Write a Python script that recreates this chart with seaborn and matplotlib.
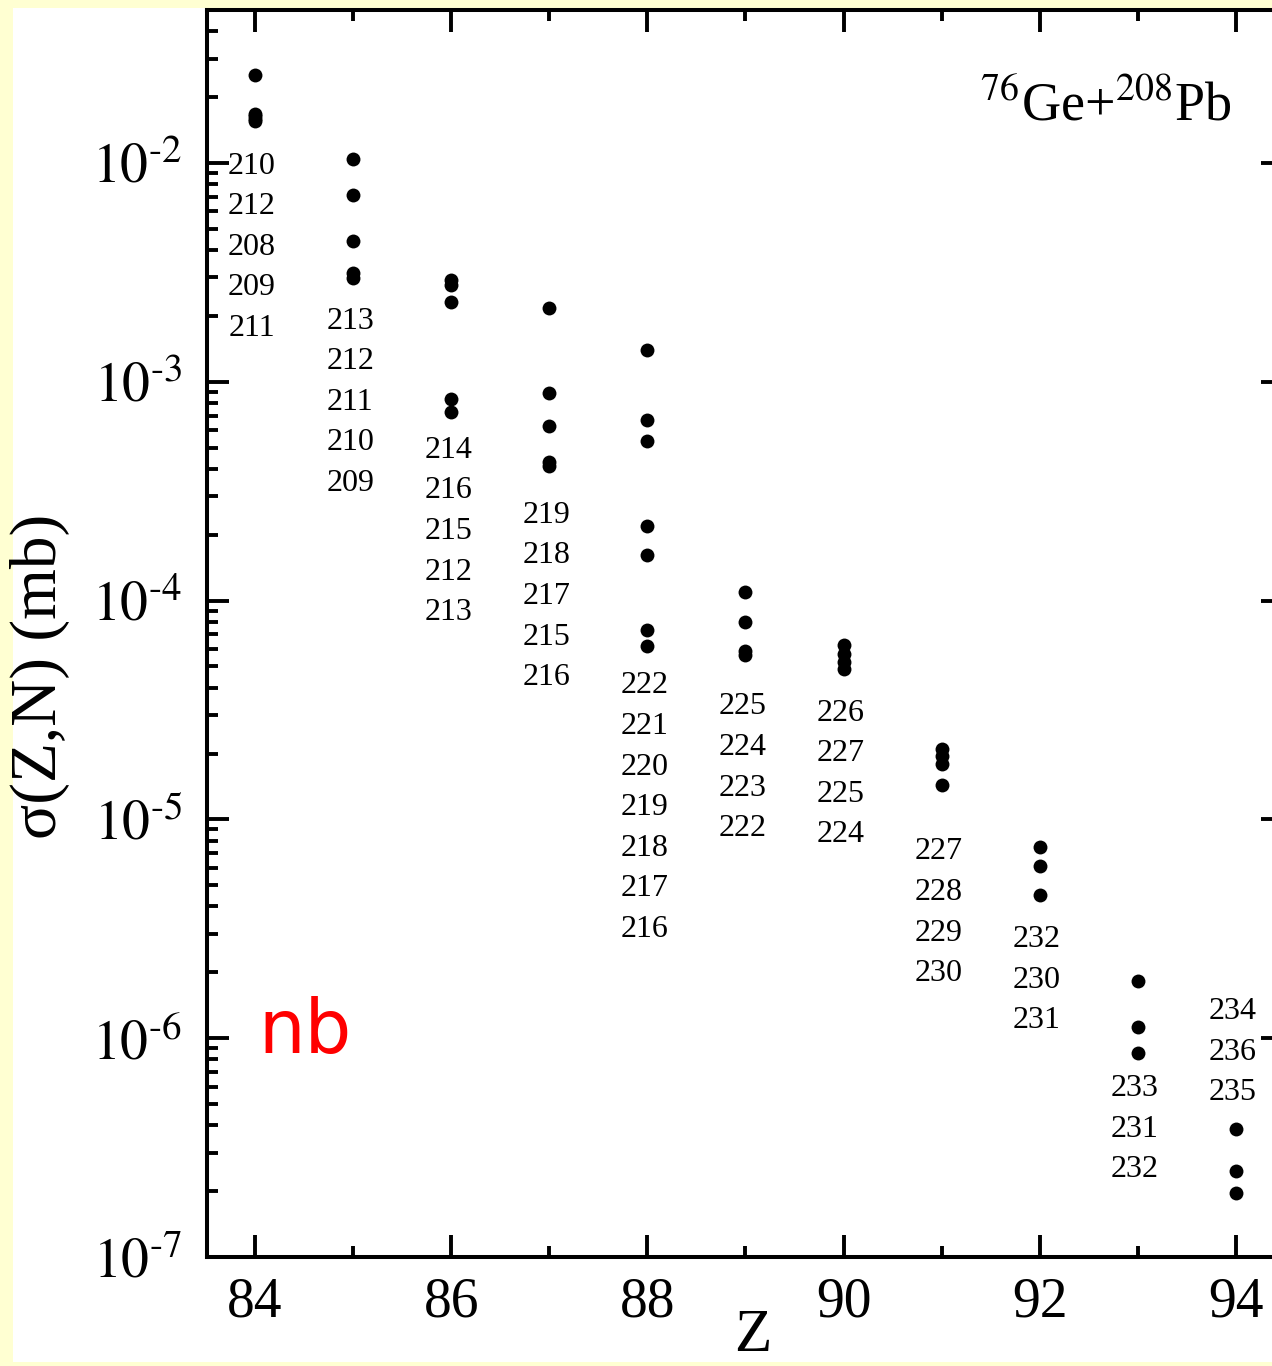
import numpy as np
import pandas as pd
import matplotlib
matplotlib.use("Agg")
import matplotlib.pyplot as plt
import matplotlib.ticker as mticker
from matplotlib.patches import Rectangle
import seaborn as sns

# proton number of each column
columns = [84, 85, 86, 87, 88, 89, 90, 91, 92, 93, 94]

# cross sections (mb), one list per column, top to bottom
sigma_84 = [2.52e-2, 1.67e-2, 1.64e-2, 1.59e-2, 1.56e-2]
sigma_85 = [1.04e-2, 7.14e-3, 4.40e-3, 3.15e-3, 2.99e-3]
sigma_86 = [2.92e-3, 2.77e-3, 2.32e-3, 8.36e-4, 7.29e-4]
sigma_87 = [2.18e-3, 8.91e-4, 6.30e-4, 4.31e-4, 4.13e-4]
sigma_88 = [1.39e-3, 6.70e-4, 5.38e-4, 2.20e-4, 1.62e-4, 7.37e-5, 6.17e-5]
sigma_89 = [1.09e-4, 8.02e-5, 5.91e-5, 5.61e-5]
sigma_90 = [6.24e-5, 5.67e-5, 5.26e-5, 4.89e-5]
sigma_91 = [2.09e-5, 1.94e-5, 1.80e-5, 1.43e-5]
sigma_92 = [7.45e-6, 6.10e-6, 4.50e-6]
sigma_93 = [1.82e-6, 1.12e-6, 8.54e-7]
sigma_94 = [3.84e-7, 2.47e-7, 1.96e-7]

# mass numbers printed next to each column
masses_84 = [210, 212, 208, 209, 211]
masses_85 = [213, 212, 211, 210, 209]
masses_86 = [214, 216, 215, 212, 213]
masses_87 = [219, 218, 217, 215, 216]
masses_88 = [222, 221, 220, 219, 218, 217, 216]
masses_89 = [225, 224, 223, 222]
masses_90 = [226, 227, 225, 224]
masses_91 = [227, 228, 229, 230]
masses_92 = [232, 230, 231]
masses_93 = [233, 231, 232]
masses_94 = [234, 236, 235]

sigmas = [sigma_84, sigma_85, sigma_86, sigma_87, sigma_88, sigma_89,
          sigma_90, sigma_91, sigma_92, sigma_93, sigma_94]
masses = [masses_84, masses_85, masses_86, masses_87, masses_88, masses_89,
          masses_90, masses_91, masses_92, masses_93, masses_94]

# gap (pixels) between the lowest dot and the first label of each column
label_gap = [42, 40, 35, 46, 36, 48, 41, 63, 41, 32, -185]
line_step = 40.6

df = pd.DataFrame({
    "Z": np.repeat(columns, [len(s) for s in sigmas]),
    "sigma": np.concatenate(sigmas),
})

sns.set_style("ticks")
plt.rcParams['font.family'] = ['Liberation Serif', 'DejaVu Serif']
plt.rcParams['mathtext.fontset'] = 'stix'
for key in ['text.color', 'axes.labelcolor', 'xtick.color', 'ytick.color', 'axes.edgecolor']:
    plt.rcParams[key] = 'black'

W, H = 1272, 1366
fig = plt.figure(figsize=(W / 100, H / 100), dpi=100, facecolor='#ffffd2')
fig.patches.append(Rectangle((13 / W, 4 / H), 1, (1358 - 4) / H,
                             transform=fig.transFigure, facecolor='white',
                             edgecolor='none', zorder=-5))
ax = fig.add_axes([207 / W, (H - 1257) / H, 1076 / W, 1247 / H])

sns.scatterplot(data=df, x="Z", y="sigma", ax=ax, color='black',
                s=100, linewidth=0, legend=False, zorder=3)

ax.set_yscale('log')
ax.set_xlim(83.51, 94.48)
ax.set_ylim(1e-7, 5e-2)

ax.xaxis.set_major_locator(mticker.MultipleLocator(2))
ax.xaxis.set_minor_locator(mticker.MultipleLocator(1))
ax.yaxis.set_major_locator(mticker.LogLocator(base=10, numticks=20))
ax.yaxis.set_minor_locator(mticker.LogLocator(base=10, subs=np.arange(2, 10), numticks=20))
ax.yaxis.set_minor_formatter(mticker.NullFormatter())
# short hyphen in the exponent, like the original
ax.yaxis.set_major_formatter(mticker.FuncFormatter(
    lambda v, pos: r'$10^{\text{-%d}}$' % round(-np.log10(v))))

for sp in ax.spines.values():
    sp.set_linewidth(2.9)
    sp.set_visible(True)
    sp.set_color('black')
ax.tick_params(which='both', direction='in', top=True, right=True, width=2.8,
               color='black', labelcolor='black')
ax.tick_params(which='major', length=16)
ax.tick_params(which='minor', length=8)
ax.tick_params(axis='x', which='major', labelsize=40, pad=14)
ax.tick_params(axis='y', which='major', labelsize=40, pad=18)

ax.set_xlabel("Z", fontsize=44)
ax.xaxis.set_label_coords((753 - 207) / 1076, -0.041)
ax.set_ylabel("σ(Z,N) (mb)", fontsize=47)
ax.yaxis.set_label_coords(-0.127, 0.466)

# mass-number labels under (or above) each column
for z, s, m, gap in zip(columns, sigmas, masses, label_gap):
    low = min(s)
    for i, a in enumerate(m):
        ax.annotate(str(a), xy=(z, low), xytext=(-3, -(gap + i * line_step) - 11),
                    textcoords='offset pixels', ha='center', va='baseline',
                    fontsize=23)

ax.text((1232 - 207) / 1076, (1257 - 120) / 1247, r'$^{76}$Ge+$^{208}$Pb',
        transform=ax.transAxes, ha='right', va='baseline', fontsize=39)
ax.text((258 - 207) / 1076, (1257 - 1053) / 1247, 'nb', color='red',
        transform=ax.transAxes, ha='left', va='baseline', fontsize=53,
        family='DejaVu Sans')

fig.savefig('out.png', dpi=100, facecolor=fig.get_facecolor())
